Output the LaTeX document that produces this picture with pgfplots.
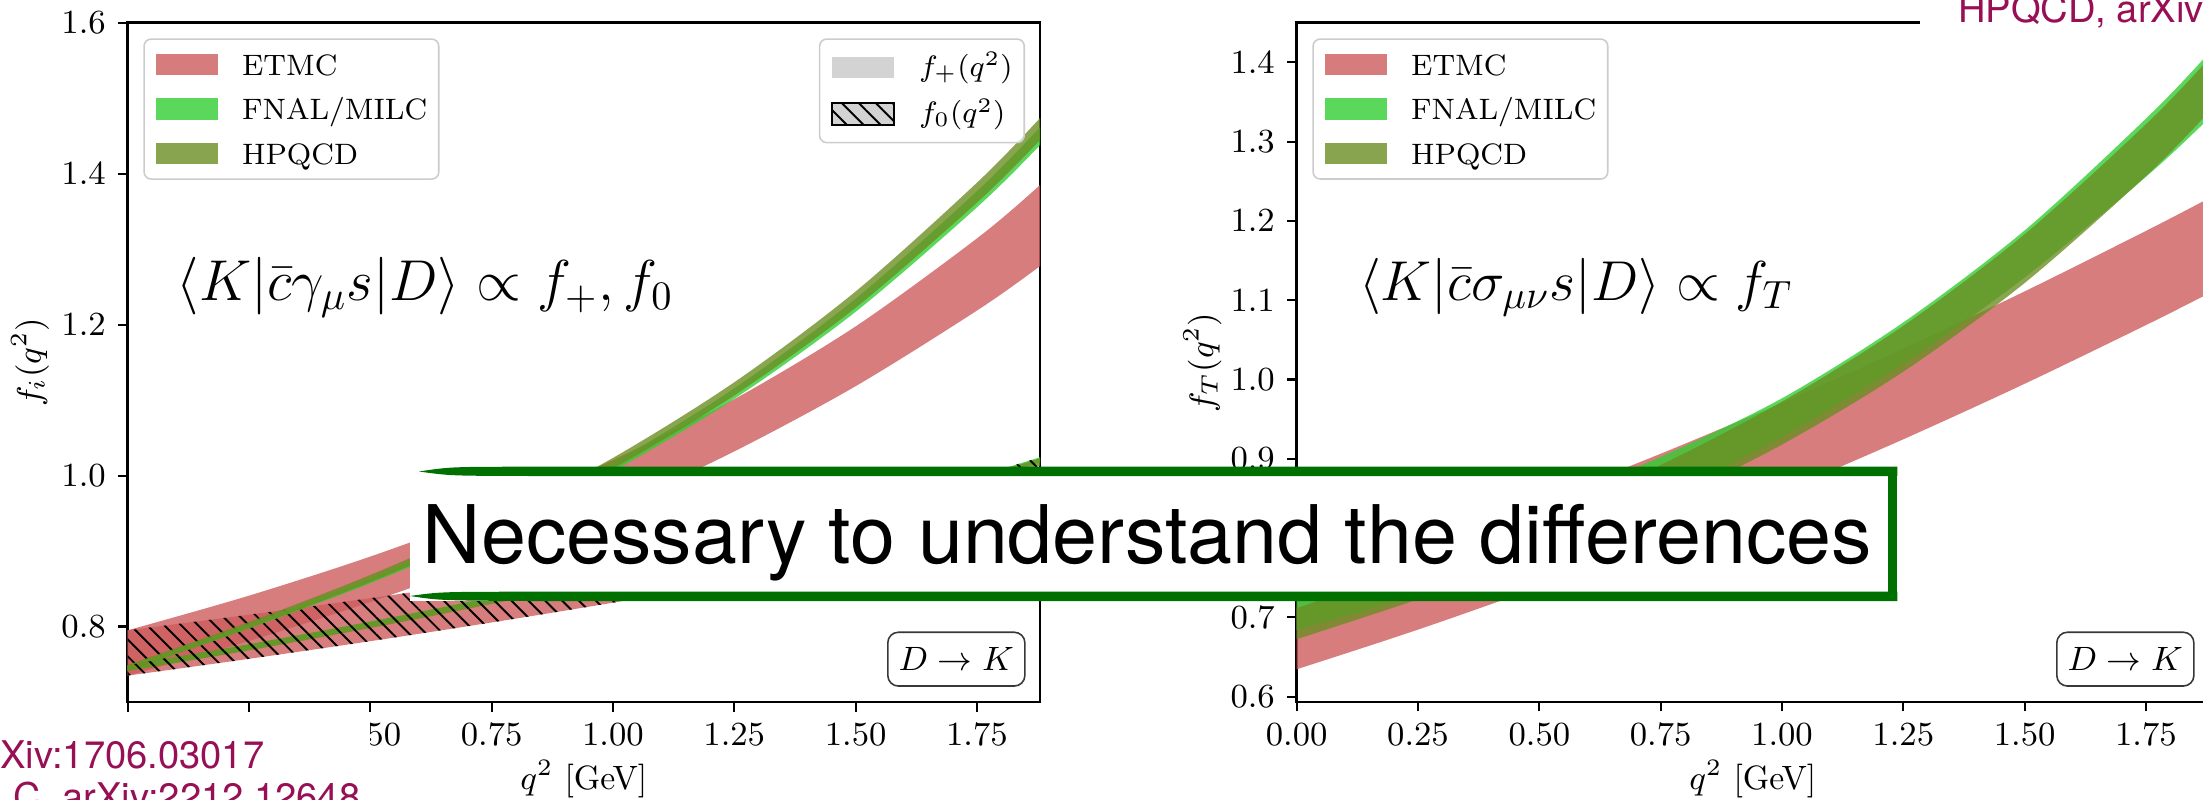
\IfFileExists{fix-cm.sty}{\RequirePackage{fix-cm}}{}
\documentclass[border=0pt]{standalone}
\usepackage{fontspec}
\newfontfamily\helv{TeX Gyre Heros}
\usepackage{pgfplots}
\pgfplotsset{compat=1.18}
\usepackage{pgfplotstable}
\usetikzlibrary{patterns.meta}

\definecolor{etmc}{RGB}{205,92,92}
\definecolor{fnal}{RGB}{50,205,50}
\definecolor{hpqcd}{RGB}{107,142,35}
\definecolor{fgray}{RGB}{211,211,211}
\definecolor{cite}{RGB}{151,15,85}
\definecolor{boxgreen}{RGB}{0,112,0}

\tikzset{
  hatch/.style={pattern={Lines[angle=-45,distance=3.4pt,line width=0.55pt]}, pattern color=black},
  dk/.style={draw=black!78, rounded corners=3pt, fill=white, line width=0.45pt,
    minimum width=39pt, minimum height=15.3pt, inner sep=0pt,
    font=\fontsize{9.6}{11}\selectfont},
}

% Each band is an outline: upper edge left to right, lower edge back.
% f_+ bands
\pgfplotstableread{
q v
-0.10 0.7781
0.00 0.7950
0.25 0.8409
0.50 0.8927
0.75 0.9519
1.00 1.0206
1.25 1.1012
1.50 1.1976
1.75 1.3142
1.88 1.3849
2.00 1.4577
2.00 1.3369
1.88 1.2775
1.75 1.2186
1.50 1.1184
1.25 1.0320
1.00 0.9568
0.75 0.8907
0.50 0.8325
0.25 0.7809
0.00 0.7350
-0.10 0.7181
}\etmcplus
\pgfplotstableread{
q v
-0.10 0.7263
0.00 0.7480
0.25 0.8038
0.50 0.8647
0.75 0.9345
1.00 1.0169
1.25 1.1156
1.50 1.2343
1.75 1.3767
1.88 1.4614
2.00 1.5466
2.00 1.5206
1.88 1.4377
1.75 1.3554
1.50 1.2170
1.25 1.1017
1.00 1.0059
0.75 0.9256
0.50 0.8574
0.25 0.7974
0.00 0.7420
-0.10 0.7203
}\fnalplus
\pgfplotstableread{
q v
-0.10 0.7268
0.00 0.7490
0.25 0.8060
0.50 0.8683
0.75 0.9395
1.00 1.0234
1.25 1.1236
1.50 1.2439
1.75 1.3880
1.88 1.4736
2.00 1.5596
2.00 1.5276
1.88 1.4444
1.75 1.3616
1.50 1.2224
1.25 1.1062
1.00 1.0094
0.75 0.9281
0.50 0.8588
0.25 0.7977
0.00 0.7410
-0.10 0.7188
}\hpqcdplus

% f_0 bands
\pgfplotstableread{
q v
-0.10 0.7870
0.00 0.7950
0.25 0.8157
0.50 0.8376
0.75 0.8609
1.00 0.8856
1.25 0.9120
1.50 0.9401
1.75 0.9702
1.88 0.9867
2.00 1.0024
2.00 0.9544
1.88 0.9379
1.75 0.9207
1.50 0.8891
1.25 0.8595
1.00 0.8316
0.75 0.8054
0.50 0.7806
0.25 0.7572
0.00 0.7350
-0.10 0.7264
}\etmczero
\pgfplotstableread{
q v
-0.10 0.7378
0.00 0.7485
0.25 0.7764
0.50 0.8065
0.75 0.8389
1.00 0.8740
1.25 0.9121
1.50 0.9536
1.75 0.9990
1.88 1.0243
2.00 1.0489
2.00 1.0419
1.88 1.0173
1.75 0.9920
1.50 0.9466
1.25 0.9051
1.00 0.8670
0.75 0.8319
0.50 0.7995
0.25 0.7694
0.00 0.7415
-0.10 0.7308
}\fnalzero
\pgfplotstableread{
q v
-0.10 0.7385
0.00 0.7490
0.25 0.7766
0.50 0.8065
0.75 0.8387
1.00 0.8735
1.25 0.9113
1.50 0.9526
1.75 0.9978
1.88 1.0229
2.00 1.0474
2.00 1.0374
1.88 1.0131
1.75 0.9880
1.50 0.9430
1.25 0.9021
1.00 0.8645
0.75 0.8299
0.50 0.7980
0.25 0.7684
0.00 0.7410
-0.10 0.7305
}\hpqcdzero

% f_T bands
\pgfplotstableread{
q v
-0.10 0.7178
0.00 0.7376
0.25 0.7899
0.50 0.8461
0.75 0.9064
1.00 0.9706
1.25 1.0389
1.50 1.1111
1.75 1.1874
1.88 1.2286
2.00 1.2676
2.00 1.1466
1.88 1.1087
1.75 1.0686
1.50 0.9946
1.25 0.9246
1.00 0.8586
0.75 0.7966
0.50 0.7386
0.25 0.6846
0.00 0.6346
-0.10 0.6157
}\etmctens
\pgfplotstableread{
q v
-0.10 0.7071
0.00 0.7300
0.25 0.7848
0.50 0.8404
0.75 0.9024
1.00 0.9763
1.25 1.0720
1.50 1.1880
1.75 1.3290
1.88 1.4121
2.00 1.5016
2.00 1.4026
1.88 1.3294
1.75 1.2556
1.50 1.1287
1.25 1.0199
1.00 0.9276
0.75 0.8496
0.50 0.7843
0.25 0.7297
0.00 0.6840
-0.10 0.6678
}\fnaltens
\pgfplotstableread{
q v
-0.10 0.6905
0.00 0.7115
0.25 0.7656
0.50 0.8246
0.75 0.8922
1.00 0.9720
1.25 1.0677
1.50 1.1832
1.75 1.3219
1.88 1.4045
2.00 1.4877
2.00 1.4187
1.88 1.3373
1.75 1.2566
1.50 1.1217
1.25 1.0099
1.00 0.9180
0.75 0.8419
0.50 0.7781
0.25 0.7229
0.00 0.6725
-0.10 0.6529
}\hpqcdtens

\pgfplotsset{
  ffpanel/.style={
    anchor=south west, scale only axis, width=9.123cm, height=6.793cm,
    xmin=0, xmax=1.88,
    xtick={0,0.25,0.5,0.75,1,1.25,1.5,1.75},
    scaled ticks=false,
    tick align=outside, tick pos=left,
    major tick length=2.7pt,
    every tick/.style={black, line width=0.6pt},
    axis line style={line width=0.75pt},
    tick label style={font=\fontsize{9.6}{11}\selectfont},
    label style={font=\fontsize{9.6}{11}\selectfont},
    xticklabel style={/pgf/number format/.cd, fixed, fixed zerofill, precision=2},
    yticklabel style={/pgf/number format/.cd, fixed, fixed zerofill, precision=1},
    xlabel style={at={(axis description cs:0.5,-0.1295)}, anchor=base},
    legend cell align=left,
    legend image code/.code={\path[draw=none, sharp corners, ##1] (0pt,-3.1pt) rectangle (17.6pt,3.1pt);},
  },
  band/.style={fill=#1, fill opacity=0.8, draw=none, smooth, forget plot},
  framed legend/.style={
    legend style={draw=black!20, line width=0.45pt, rounded corners=2pt,
      fill=white, fill opacity=0.8, text opacity=1, draw opacity=1,
      inner xsep=3.3pt, column sep=7pt,
      font=\fontsize{8.4}{10}\selectfont}
  },
  collab legend/.style={
    framed legend,
    legend style={at={(axis description cs:0,1)}, anchor=north west,
      xshift=0.156cm, yshift=-0.156cm, inner ysep=3.35pt, row sep=4.86pt,
      nodes={inner xsep=0pt, inner ysep=0pt, text height=7pt, text depth=0.8pt}}
  },
}

\begin{document}
\begin{tikzpicture}

% ---------------- vector form factors ----------------
\begin{axis}[ffpanel, at={(1.277cm,0.97cm)},
  ymin=0.7, ymax=1.6, ytick={0.8,1.0,1.2,1.4,1.6},
  xlabel={$q^2$ [GeV]}, ylabel={$f_i(q^2)$},
  ylabel style={at={(axis description cs:-0.107,0.5)}, anchor=center},
  collab legend]
\addlegendimage{fill=etmc, fill opacity=0.8}\addlegendentry{ETMC}
\addlegendimage{fill=fnal, fill opacity=0.8}\addlegendentry{FNAL/MILC}
\addlegendimage{fill=hpqcd, fill opacity=0.8}\addlegendentry{HPQCD}
\addplot[band=etmc] table[x=q, y=v] {\etmcplus};
\addplot[band=etmc] table[x=q, y=v] {\etmczero};
\addplot[hatch, draw=none, smooth, forget plot] table[x=q, y=v] {\etmczero};
\addplot[band=fnal] table[x=q, y=v] {\fnalplus};
\addplot[band=fnal] table[x=q, y=v] {\fnalzero};
\addplot[hatch, draw=none, smooth, forget plot] table[x=q, y=v] {\fnalzero};
\addplot[band=hpqcd] table[x=q, y=v] {\hpqcdplus};
\addplot[band=hpqcd] table[x=q, y=v] {\hpqcdzero};
\addplot[hatch, draw=none, smooth, forget plot] table[x=q, y=v] {\hpqcdzero};
\node[anchor=base west, inner sep=0pt, font=\fontsize{16.4}{19}\selectfont]
  at (axis cs:0.0996,1.232) {$\langle K|\bar{c}\gamma_\mu s|D\rangle \propto f_+, f_0$};
\node[dk] at (rel axis cs:0.9083,0.0631) {$D\to K$};
\end{axis}

% second legend of the left panel: which form factor
\begin{axis}[ffpanel, at={(1.277cm,0.97cm)}, hide axis,
  ymin=0, ymax=1, framed legend,
  legend style={at={(axis description cs:1,1)}, anchor=north east,
    xshift=-0.15cm, yshift=-0.156cm, inner ysep=4.77pt, row sep=6.67pt,
    nodes={inner xsep=0pt, inner ysep=0pt, text height=5.8pt, text depth=0.8pt}}]
\addlegendimage{fill=fgray, fill opacity=1}\addlegendentry{$f_+(q^2)$}
\addlegendimage{fill=fgray, fill opacity=1, postaction={hatch}}\addlegendentry{$f_0(q^2)$}
\addplot[draw=none, forget plot] coordinates {(0.5,0.5)};
\end{axis}

% ---------------- tensor form factor ----------------
\begin{axis}[ffpanel, at={(12.967cm,0.97cm)},
  ymin=0.5933, ymax=1.45, ytick={0.6,0.7,0.8,0.9,1.0,1.1,1.2,1.3,1.4},
  xlabel={$q^2$ [GeV]}, ylabel={$f_T(q^2)$},
  ylabel style={at={(axis description cs:-0.1033,0.5)}, anchor=center},
  collab legend]
\addlegendimage{fill=etmc, fill opacity=0.8}\addlegendentry{ETMC}
\addlegendimage{fill=fnal, fill opacity=0.8}\addlegendentry{FNAL/MILC}
\addlegendimage{fill=hpqcd, fill opacity=0.8}\addlegendentry{HPQCD}
\addplot[band=etmc] table[x=q, y=v] {\etmctens};
\addplot[band=fnal] table[x=q, y=v] {\fnaltens};
\addplot[band=hpqcd] table[x=q, y=v] {\hpqcdtens};
\node[anchor=base west, inner sep=0pt, font=\fontsize{16}{19}\selectfont]
  at (axis cs:0.127,1.0997) {$\langle K|\bar{c}\sigma_{\mu\nu} s|D\rangle \propto f_T$};
\node[dk] at (rel axis cs:0.9083,0.0631) {$D\to K$};
\end{axis}

% references
\fill[white] (0,0) rectangle (3.697,0.85);
\node[anchor=base east, inner sep=0pt, text=cite, font=\helv\fontsize{10.85}{13}\selectfont]
  at (2.65,0.31) {ETMC, arXiv:1706.03017};
\node[anchor=base east, inner sep=0pt, text=cite, font=\helv\fontsize{10.85}{13}\selectfont]
  at (3.61,-0.11) {FNAL/MILC, arXiv:2212.12648};
\fill[white] (19.20,7.64) rectangle (22.1,8.1);
\node[anchor=base west, inner sep=0pt, text=cite, font=\helv\fontsize{10.85}{13}\selectfont]
  at (19.573,7.76) {HPQCD, arXiv:2104.09883};

% highlighted message
\fill[white] (4.10,1.98) rectangle (18.973,3.323);
\fill[boxgreen] (18.88,1.98) rectangle (18.973,3.323);
\fill[boxgreen] (4.19,3.275) .. controls (4.5,3.322) .. (5.3,3.323) -- (18.973,3.323)
  -- (18.973,3.23) -- (5.3,3.23) .. controls (4.5,3.232) .. cycle;
\fill[boxgreen] (4.10,2.03) .. controls (4.4,2.072) .. (5.3,2.073) -- (18.973,2.073)
  -- (18.973,1.98) -- (5.3,1.98) .. controls (4.4,1.985) .. cycle;
\node[anchor=base west, inner sep=0pt, font=\helv\fontsize{23}{27}\selectfont]
  at (4.22,2.357) {Necessary to understand the differences};

\pgfresetboundingbox
\useasboundingbox (0,0) rectangle (22.03,7.99);
\end{tikzpicture}
\end{document}
